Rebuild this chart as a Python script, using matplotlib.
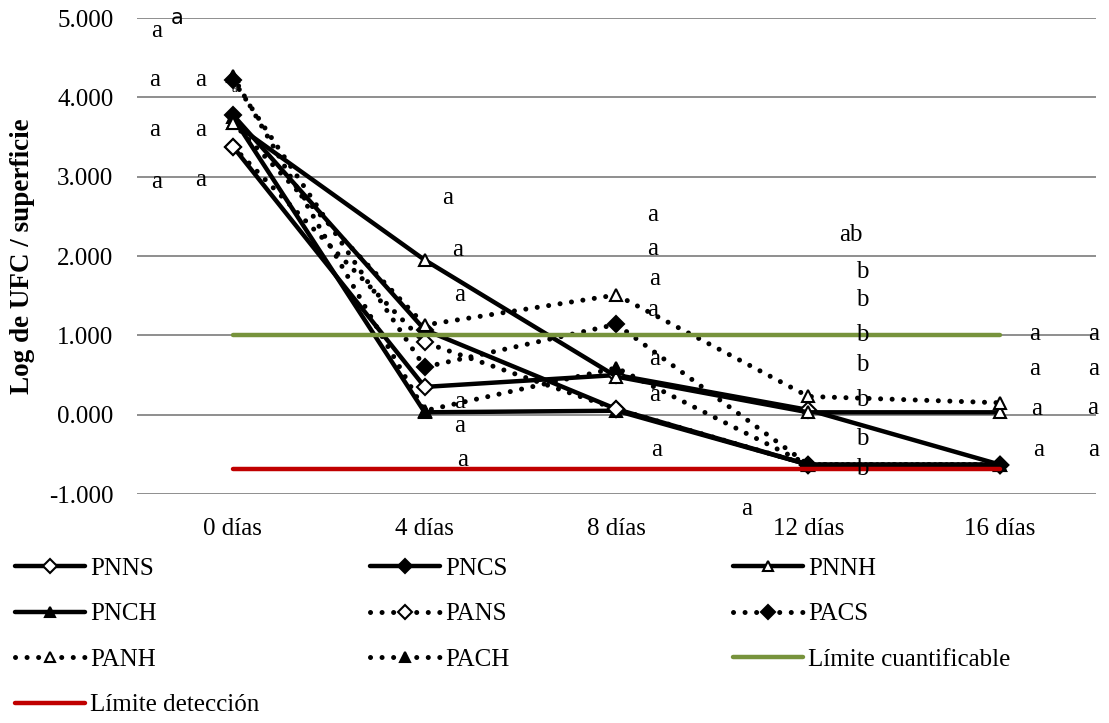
import matplotlib
matplotlib.use("Agg")
import matplotlib.pyplot as plt
from matplotlib.ticker import FuncFormatter

plt.rcParams['font.family'] = ['Liberation Serif', 'DejaVu Serif']

# datos (log UFC / superficie)
dias = ["0 días", "4 días", "8 días", "12 días", "16 días"]

pnns = [3.38, 0.35, 0.50, 0.06, -0.63]
pncs = [3.78, 1.07, 0.07, -0.63, -0.63]
pnnh = [3.68, 1.95, 0.48, 0.03, 0.03]
pnch = [3.75, 0.03, 0.05, -0.63, -0.63]
pans = [3.38, 0.91, 0.07, -0.63, -0.63]
pacs = [4.22, 0.60, 1.14, -0.63, -0.63]
panh = [3.68, 1.13, 1.51, 0.23, 0.15]
pach = [4.27, 0.05, 0.59, -0.63, -0.63]

limite_cuant = 1.0
limite_det = -0.68

# letras de significancia (posición en ejes de datos)
letras = ["a", "a", "a", "a", "a", "a", "a",
          "a", "a", "a", "a", "a", "a",
          "a", "a", "a", "a", "a", "a", "a", "a",
          "ab", "b", "b", "b", "b", "b", "b", "b",
          "a", "a", "a", "a", "a", "a", "a", "a"]
letras_x = [-0.40, -0.41, -0.17, -0.41, -0.17, -0.40, -0.17,
            1.12, 1.17, 1.18, 1.18, 1.18, 1.20,
            2.19, 2.19, 2.20, 2.19, 2.20, 2.20, 2.21, 2.68,
            3.22, 3.28, 3.28, 3.28, 3.28, 3.28, 3.28, 3.28,
            4.18, 4.18, 4.19, 4.20, 4.49, 4.49, 4.48, 4.49]
letras_y = [4.86, 4.25, 4.25, 3.62, 3.62, 2.96, 2.99,
            2.76, 2.11, 1.54, 0.19, -0.11, -0.54,
            2.55, 2.12, 1.74, 1.35, 0.73, 0.28, -0.42, -1.16,
            2.30, 1.83, 1.48, 1.03, 0.66, 0.21, -0.28, -0.66,
            1.05, 0.61, 0.10, -0.42, 1.05, 0.61, 0.12, -0.42]

x = list(range(len(dias)))

fig = plt.figure(figsize=(11.09, 7.23), dpi=100)
ax = fig.add_axes([0.1235, 0.3167, 0.8648, 0.6584])

solido = dict(color="black", lw=3.2, solid_capstyle="round", markersize=8,
              markeredgecolor="black", markeredgewidth=1.5)
punteado = dict(color="black", lw=3.6, linestyle=(0, (0.01, 2.3)),
                dash_capstyle="round", markersize=8,
                markeredgecolor="black", markeredgewidth=1.5)

l1, = ax.plot(x, pnns, marker="D", markerfacecolor="white", label="PNNS", **solido)
l2, = ax.plot(x, pncs, marker="D", markerfacecolor="black", label="PNCS", **solido)
l3, = ax.plot(x, pnnh, marker="^", markerfacecolor="white", label="PNNH", **solido)
l4, = ax.plot(x, pnch, marker="^", markerfacecolor="black", label="PNCH", **solido)
l5, = ax.plot(x, pans, marker="D", markerfacecolor="white", label="PANS", **punteado)
l6, = ax.plot(x, pacs, marker="D", markerfacecolor="black", label="PACS", **punteado)
l7, = ax.plot(x, panh, marker="^", markerfacecolor="white", label="PANH", **punteado)
l8, = ax.plot(x, pach, marker="^", markerfacecolor="black", label="PACH", **punteado)
l9, = ax.plot(x, [limite_cuant] * len(x), color="#77933C", lw=3.2,
              solid_capstyle="round", label="Límite cuantificable", zorder=5)
l10, = ax.plot(x, [limite_det] * len(x), color="#C00000", lw=3.2,
               solid_capstyle="round", label="Límite detección", zorder=5)

for t, lx, ly in zip(letras, letras_x, letras_y):
    ax.text(lx, ly - 0.03, t, ha="center", va="center", fontsize=18, zorder=6)
ax.text(-0.29, 5.0, "a", ha="center", va="center", fontsize=15,
        family="DejaVu Sans", zorder=6)
ax.text(0.01, 4.1, "a", ha="center", va="center", fontsize=9, zorder=6)

ax.set_xlim(-0.5, 4.5)
ax.set_ylim(-1, 5)
ax.set_xticks(x)
ax.set_xticklabels(dias)
ax.set_yticks(range(-1, 6))
ax.yaxis.set_major_formatter(FuncFormatter(lambda v, p: f"{v:.3f}"))
ax.tick_params(axis="both", length=0, labelsize=18)
ax.tick_params(axis="x", pad=17)
ax.tick_params(axis="y", pad=17)
ax.grid(axis="y", color="#868686", lw=1.3)
ax.set_axisbelow(True)
for s in ax.spines.values():
    s.set_visible(False)

ax.set_ylabel("Log de UFC / superficie", fontsize=19.5, fontweight="bold")
ax.yaxis.set_label_coords(-0.106, 0.5)

columnas = [[l1, l4, l7, l10], [l2, l5, l8], [l3, l6, l9]]
pos_x = [15 / 1109, 370 / 1109, 733 / 1109]
for hs, px in zip(columnas, pos_x):
    fig.legend(handles=hs, labels=[h.get_label() for h in hs], loc="upper left",
               bbox_to_anchor=(px, 0.229), frameon=False, fontsize=18,
               borderpad=0, borderaxespad=0, handlelength=2.8,
               handletextpad=0.22, labelspacing=0.92, numpoints=1,
               markerscale=0.85)

fig.savefig("out.png", dpi=100)
